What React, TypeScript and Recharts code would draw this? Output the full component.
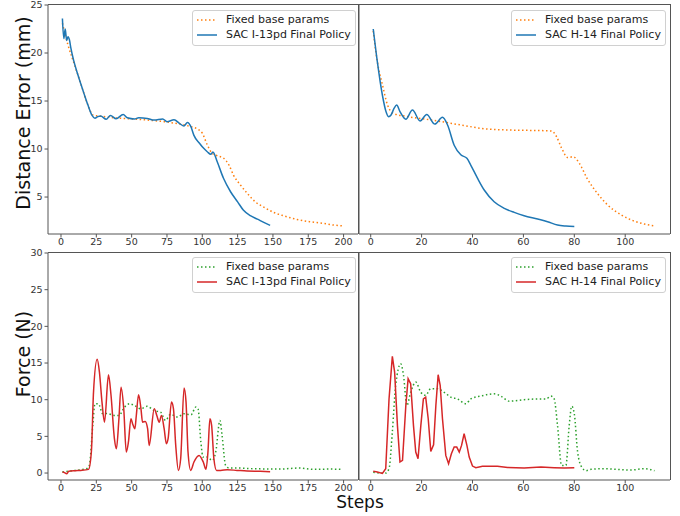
import React from "react";
import { LineChart, Line, XAxis, YAxis, Legend } from "recharts";

type Pt = [number, number];

// Distance error (mm) per step
const distFixedI13: Pt[] = [
  [1, 23.1], [5, 20.8], [10, 18.6], [14, 16.8], [19, 14.6], [22.5, 13.55], [26, 13.45],
  [32, 13.35], [38, 13.25], [50, 13.13], [61, 13.02], [73, 12.85], [85, 12.57], [92, 12.33],
  [97, 12.05], [100, 11.65], [103.5, 10.45], [107, 9.55], [110.5, 9.3], [115, 9.05],
  [119, 8.3], [122, 7.3], [127, 6.25], [132, 5.35], [137.5, 4.5], [143.5, 3.95], [150.5, 3.4],
  [157.5, 3.05], [167, 2.67], [176, 2.43], [186, 2.25], [193, 2.08], [199, 2.0],
];
const distSacI13: Pt[] = [
  [1, 23.6], [2, 21.5], [3, 22.5], [4, 21.3], [5, 21.7], [6, 21.35], [7, 20.5], [9, 19.2],
  [12, 17.7], [16, 15.9], [19, 14.6], [22, 13.5], [24, 13.2], [26, 13.37], [28, 13.45],
  [32, 13.1], [35, 13.5], [39, 13.15], [44, 13.6], [47, 13.25], [52, 13.13], [55, 13.26],
  [61, 13.19], [66, 13.02], [72, 13.13], [75, 12.85], [80, 13.05], [84, 12.65], [87, 12.4],
  [89.5, 12.75], [92, 12.3], [94, 11.45], [98, 10.6], [101, 10.07], [103.5, 9.72], [106, 9.45],
  [107.5, 9.7], [110.5, 8.7], [115, 6.95], [120, 5.55], [125, 4.5], [129, 3.65], [134, 3.06],
  [139, 2.7], [143.5, 2.36], [148, 2.05],
];
const distFixedH14: Pt[] = [
  [1, 22.3], [2.6, 19.1], [4.6, 16.7], [6.6, 14.6], [9, 13.7], [14, 13.4], [21, 13.13],
  [29, 12.8], [37, 12.43], [45, 12.1], [54, 11.98], [63, 11.94], [71, 11.88], [73, 11.3],
  [75, 10.1], [77.5, 9.1], [79.5, 9.2], [82, 8.5], [85, 6.95], [89, 5.4], [93, 4.2],
  [98.5, 3.13], [103.5, 2.5], [107.5, 2.19], [112, 1.98],
];
const distSacH14: Pt[] = [
  [1, 22.5], [2.6, 19.1], [4.6, 15.6], [6, 13.9], [7, 13.37], [8, 13.55], [9.2, 14.25],
  [10.2, 14.58], [11.5, 13.9], [13.8, 13.1], [16.4, 14.06], [19.4, 12.92], [22, 13.6],
  [25.2, 12.6], [28.2, 13.3], [30.2, 12.5], [32.8, 10.4], [35.4, 9.4], [37.8, 9.03],
  [39.3, 8.33], [42, 6.94], [44.6, 5.73], [48.5, 4.51], [52.5, 3.82], [56.4, 3.4],
  [60.3, 3.06], [65.6, 2.71], [69.5, 2.43], [73.4, 2.08], [76.7, 1.98], [80, 1.94],
];

// Force (N) per step
const forceFixedI13: Pt[] = [
  [1, 0.14], [10, 0.36], [18, 0.59], [20, 1.0], [22.5, 6.5], [24, 9.44], [26.5, 9.44],
  [29.5, 8.1], [33, 8.1], [38, 7.85], [41, 7.85], [45, 9.0], [48.5, 9.44], [52, 9.2],
  [56.5, 8.76], [61, 9.1], [66, 8.5], [70.5, 8.3], [74, 7.17], [77.5, 8.0], [82.5, 7.63],
  [87, 8.08], [92, 7.94], [95.5, 9.0], [97, 8.76], [99, 4.2], [100.5, 2.18], [103.5, 2.18],
  [107, 1.72], [109.5, 2.86], [112.5, 7.17], [114, 5.13], [116.5, 1.04], [119, 0.68],
  [125, 0.68], [136, 0.59], [155, 0.54], [168, 0.68], [179, 0.5], [190, 0.54], [198, 0.5],
];
const forceSacI13: Pt[] = [
  [1, 0.14], [2.5, 0.05], [4, -0.1], [5.5, 0.23], [10, 0.32], [14, 0.36], [19.5, 0.5],
  [21.5, 2.9], [23, 11], [25.6, 15.5], [27.2, 13.75], [29, 9.7], [30.8, 6.94], [33.6, 13.4],
  [35.4, 10.6], [37.8, 4.7], [39.2, 3.3], [41, 7.4], [42.5, 11.7], [44.4, 8.76], [46.2, 2.86],
  [47.7, 4.2], [49.5, 7.4], [50.7, 6.7], [52.3, 6.04], [53.3, 7.85], [54.9, 10.67],
  [56.6, 8.76], [57.7, 6.94], [59.6, 7.04], [61.3, 6.04], [62.4, 3.77], [66, 8.76],
  [67.8, 7.85], [69.5, 6.94], [71.1, 7.85], [73, 6.04], [74.6, 3.99], [75.8, 4.68],
  [78.2, 9.67], [79.6, 8.76], [81.2, 3.77], [83.1, 0.36], [84.7, 1.95], [87.1, 11.6],
  [88.5, 9.67], [89.9, 2.86], [91.8, 0.36], [94.1, 1.5], [97.7, 2.4], [100.7, 1.5],
  [102.6, 0.5], [104, 2.86], [105.4, 7.4], [106.6, 6.5], [108.2, 1.95], [110.1, 0.36],
  [113, 0.36], [117.6, 0.45], [124.6, 0.36], [131.7, 0.27], [141, 0.23], [148, 0.18],
];
const forceFixedH14: Pt[] = [
  [1, 0.1], [4.6, 0.0], [5.9, 0.0], [7.2, 0.6], [8.5, 5.6], [9.8, 11.9], [11.8, 14.9],
  [12.9, 13.3], [14.2, 9.2], [15.7, 11.0], [17.7, 12.4], [19.7, 11.0], [21.6, 10.6],
  [23.6, 11.5], [26.2, 11.5], [28.9, 11.0], [31.5, 10.35], [34.1, 10.1], [37.4, 9.44],
  [39.3, 10.1], [43.3, 10.5], [48.5, 10.8], [51.1, 10.5], [54.4, 9.8], [60.3, 10.0],
  [65.6, 10.1], [68.9, 10.1], [70.8, 10.5], [72.1, 10.1], [73.4, 6.5], [75, 1.04],
  [76.7, 1.04], [78, 6.5], [79, 9.12], [80, 8.08], [81.3, 2.86], [82.9, 0.82], [84.6, 0.32],
  [86.6, 0.5], [91.8, 0.59], [97, 0.5], [102.3, 0.41], [107.5, 0.59], [111.5, 0.32],
];
const forceSacH14: Pt[] = [
  [1, 0.23], [2.6, 0.14], [4.6, -0.05], [5.9, 0.59], [7.2, 10.1], [8.5, 15.9], [9.4, 13.75],
  [10.5, 6.5], [11.5, 1.5], [12.5, 1.72], [13.8, 9.2], [14.7, 12.85], [15.7, 12.17],
  [16.8, 6.5], [17.7, 2.86], [18.6, 1.95], [19.7, 6.5], [20.7, 10.12], [21.6, 10.35],
  [22.6, 7.4], [23.6, 2.95], [24.7, 3.86], [25.6, 9.21], [26.5, 13.4], [27.3, 11.94],
  [28.2, 7.4], [29.5, 2.4], [30.6, 1.27], [31.7, 2.63], [32.8, 3.54], [33.8, 3.54],
  [34.8, 2.86], [35.7, 3.77], [36.7, 5.36], [37.8, 3.77], [38.7, 2.18], [40, 0.95],
  [41.3, 0.73], [43.9, 0.91], [49.8, 0.91], [53.8, 0.77], [60.3, 0.68], [66.9, 0.82],
  [72.1, 0.73], [76.1, 0.68], [80, 0.73],
];

const stepTicksI13 = [0, 25, 50, 75, 100, 125, 150, 175, 200];
const stepTicksH14 = [0, 20, 40, 60, 80, 100];
const distTicks = [5, 10, 15, 20, 25];
const forceTicks = [0, 5, 10, 15, 20, 25, 30];

const ORANGE = "#ff7f0e";
const BLUE = "#1f77b4";
const GREEN = "#2ca02c";
const RED = "#d62728";
const SPINE = "#555";
const FONT = "'DejaVu Sans', sans-serif";
const DOTS = "1.5 2.5";
const X_AXIS_H = 26;

const toRows = (pts: Pt[]) => pts.map(([step, value]) => ({ step, value }));

const YTitle = ({ text, tx, ty }: any) => (
  <text
    x={tx}
    y={ty}
    transform={`rotate(-90 ${tx} ${ty})`}
    textAnchor="middle"
    dominantBaseline="central"
    fontFamily={FONT}
    fontSize={19}
    fill="#111"
  >
    {text}
  </text>
);

const LegendBox = ({ entries }: any) => (
  <div
    style={{
      border: "1px solid #d0d0d0",
      borderRadius: 3,
      background: "rgba(255,255,255,0.85)",
      padding: "1px 4px 3px 4px",
      fontFamily: FONT,
      fontSize: 11,
      color: "#222",
      display: "inline-block",
    }}
  >
    {entries.map((e: any) => (
      <div key={e.label} style={{ display: "flex", alignItems: "center", height: 15 }}>
        <svg width={20} height={4} style={{ marginRight: 9 }}>
          <line
            x1={0}
            y1={2}
            x2={20}
            y2={2}
            stroke={e.color}
            strokeWidth={1.5}
            strokeDasharray={e.dotted ? DOTS : undefined}
          />
        </svg>
        <span style={{ whiteSpace: "nowrap" }}>{e.label}</span>
      </div>
    ))}
  </div>
);

const Panel = (p: any) => {
  const tickStyle = { fill: "#333", fontSize: 9.5, fontFamily: FONT };
  const yW = p.showY ? 48 : 4;
  const plotW = p.width - yW;
  const plotH = p.height - p.marginTop - X_AXIS_H;
  return (
    <div style={{ position: "absolute", left: p.left, top: p.top }}>
      <LineChart
        width={p.width}
        height={p.height}
        margin={{ top: p.marginTop, right: 0, bottom: 0, left: 0 }}
      >
        <XAxis
          dataKey="step"
          type="number"
          domain={p.xDomain}
          ticks={p.xTicks}
          interval={0}
          allowDataOverflow
          height={X_AXIS_H}
          tickSize={3.5}
          tickMargin={1}
          stroke={SPINE}
          tick={tickStyle}
        />
        <YAxis
          type="number"
          domain={p.yDomain}
          ticks={p.yTicks}
          interval={0}
          allowDataOverflow
          width={yW}
          tickSize={3.5}
          tickMargin={2}
          stroke={SPINE}
          tick={p.showY ? tickStyle : false}
          label={p.yTitle ? <YTitle text={p.yTitle} tx={23} ty={p.yTitleY} /> : undefined}
        />
        <Legend
          layout="vertical"
          verticalAlign="middle"
          align="center"
          wrapperStyle={{ left: p.legendLeft, top: p.legendTop, width: "auto" }}
          content={<LegendBox entries={p.legend} />}
        />
        <Line
          data={toRows(p.fixed)}
          dataKey="value"
          name="Fixed base params"
          type="monotone"
          stroke={p.fixedColor}
          strokeWidth={1.5}
          strokeDasharray={DOTS}
          dot={false}
          isAnimationActive={false}
        />
        <Line
          data={toRows(p.sac)}
          dataKey="value"
          name={p.sacName}
          type={p.curve}
          stroke={p.sacColor}
          strokeWidth={1.5}
          dot={false}
          isAnimationActive={false}
        />
      </LineChart>
      {/* top and right spines of the axes box */}
      <div
        style={{
          position: "absolute",
          left: yW,
          top: p.marginTop - 1,
          width: plotW + 1,
          height: plotH + 1,
          boxSizing: "border-box",
          borderTop: `1px solid ${SPINE}`,
          borderRight: `1px solid ${SPINE}`,
          pointerEvents: "none",
        }}
      />
    </div>
  );
};

const legendFor = (fixedColor: string, sacColor: string, sacName: string) => [
  { label: "Fixed base params", color: fixedColor, dotted: true },
  { label: sacName, color: sacColor, dotted: false },
];

export default function App() {
  const distDomain = [1.15, 25];
  const forceDomain = [-0.95, 30];
  const xI13 = [-9.2, 210.2];
  const xH14 = [-4.6, 117.6];
  return (
    <div style={{ position: "absolute", left: 0, top: 0, width: 680, height: 516, background: "#fff" }}>
      <Panel
        left={0} top={0} width={358} height={260} marginTop={5}
        xDomain={xI13} xTicks={stepTicksI13} yDomain={distDomain} yTicks={distTicks}
        showY yTitle="Distance Error (mm)" yTitleY={113}
        fixed={distFixedI13} sac={distSacI13} fixedColor={ORANGE} sacColor={BLUE}
        sacName="SAC I-13pd Final Policy" curve="monotone"
        legendLeft={192} legendTop={10}
        legend={legendFor(ORANGE, BLUE, "SAC I-13pd Final Policy")}
      />
      <Panel
        left={355} top={0} width={315} height={260} marginTop={5}
        xDomain={xH14} xTicks={stepTicksH14} yDomain={distDomain} yTicks={distTicks}
        showY={false}
        fixed={distFixedH14} sac={distSacH14} fixedColor={ORANGE} sacColor={BLUE}
        sacName="SAC H-14 Final Policy" curve="monotone"
        legendLeft={156} legendTop={10}
        legend={legendFor(ORANGE, BLUE, "SAC H-14 Final Policy")}
      />
      <Panel
        left={0} top={248} width={358} height={258} marginTop={5}
        xDomain={xI13} xTicks={stepTicksI13} yDomain={forceDomain} yTicks={forceTicks}
        showY yTitle="Force (N)" yTitleY={106}
        fixed={forceFixedI13} sac={forceSacI13} fixedColor={GREEN} sacColor={RED}
        sacName="SAC I-13pd Final Policy" curve="monotone"
        legendLeft={192} legendTop={9}
        legend={legendFor(GREEN, RED, "SAC I-13pd Final Policy")}
      />
      <Panel
        left={355} top={248} width={315} height={258} marginTop={5}
        xDomain={xH14} xTicks={stepTicksH14} yDomain={forceDomain} yTicks={forceTicks}
        showY={false}
        fixed={forceFixedH14} sac={forceSacH14} fixedColor={GREEN} sacColor={RED}
        sacName="SAC H-14 Final Policy" curve="linear"
        legendLeft={156} legendTop={9}
        legend={legendFor(GREEN, RED, "SAC H-14 Final Policy")}
      />
      <div
        style={{
          position: "absolute",
          left: 310,
          top: 492,
          width: 100,
          textAlign: "center",
          fontFamily: FONT,
          fontSize: 17,
          color: "#111",
        }}
      >
        Steps
      </div>
    </div>
  );
}
